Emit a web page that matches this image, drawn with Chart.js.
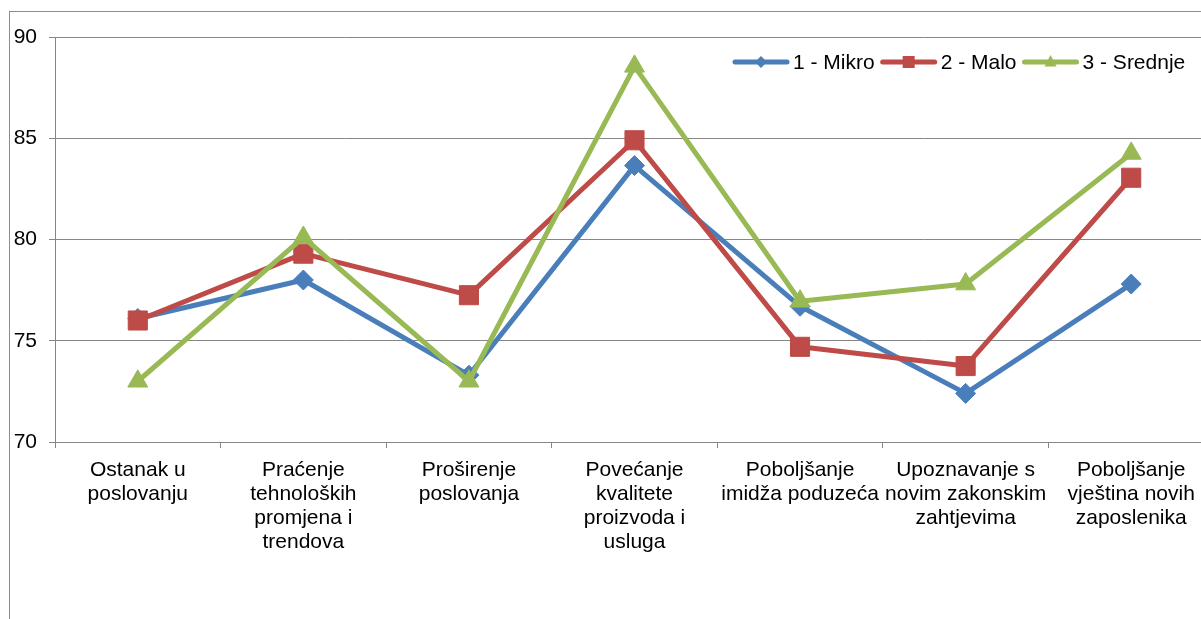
<!DOCTYPE html>
<html><head><meta charset="utf-8">
<script src="https://cdn.jsdelivr.net/npm/chart.js@4"></script>
<style>
html,body{margin:0;padding:0;overflow:hidden;background:#fff;width:1201px;height:619px;}
#frame{position:absolute;left:9px;top:11px;width:1300px;height:700px;border-left:1px solid #8c8c8c;border-top:1px solid #8c8c8c;}
#c{position:absolute;left:0;top:0;}
</style></head><body>
<div id="frame"></div>
<canvas id="c" width="1230" height="640"></canvas>
<script>
const categories = [
  ["Ostanak u","poslovanju"],
  ["Praćenje","tehnoloških","promjena i","trendova"],
  ["Proširenje","poslovanja"],
  ["Povećanje","kvalitete","proizvoda i","usluga"],
  ["Poboljšanje","imidža poduzeća"],
  ["Upoznavanje s","novim zakonskim","zahtjevima"],
  ["Poboljšanje","vještina novih","zaposlenika"]
];
const seriesNames = ["1 - Mikro","2 - Malo","3 - Srednje"];
const mikro   = [76.1, 78.0, 73.3, 83.65, 76.7, 72.4, 77.8];
const malo    = [76.0, 79.3, 77.25, 84.9, 74.7, 73.75, 83.05];
const srednje = [73.0, 80.1, 73.0, 88.55, 76.95, 77.8, 84.25];
const yMin = 70, yMax = 90, yStep = 5;

const colors = ["#4a7ebb", "#be4b48", "#98b954"];
const styles = ["rectRot", "rect", "triangle"];
const radii = [10, 13.5, 11.5];
const FONT = "'Liberation Sans', Arial, sans-serif";

Chart.defaults.font.family = FONT;
Chart.defaults.font.size = 21;
Chart.defaults.color = "#000";

function drawMarker(ctx, style, x, y, s) {
  ctx.beginPath();
  if (style === "rectRot") {
    ctx.moveTo(x, y - s); ctx.lineTo(x + s, y); ctx.lineTo(x, y + s); ctx.lineTo(x - s, y);
  } else if (style === "rect") {
    ctx.rect(x - s, y - s, 2 * s, 2 * s);
  } else {
    const h = s * 1.732;
    ctx.moveTo(x, y - s); ctx.lineTo(x + h / 2, y + s / 2 + 1); ctx.lineTo(x - h / 2, y + s / 2 + 1);
  }
  ctx.closePath();
  ctx.fill();
}

const legendPlugin = {
  id: "customLegend",
  afterDraw(chart) {
    const ctx = chart.ctx;
    ctx.save();
    ctx.font = "21px " + FONT;
    ctx.textBaseline = "middle";
    ctx.textAlign = "left";
    let x = 733;
    const y = 62;
    const markerSizes = [6, 6, 7];
    seriesNames.forEach((name, i) => {
      ctx.strokeStyle = colors[i];
      ctx.fillStyle = colors[i];
      ctx.lineWidth = 5;
      ctx.lineCap = "round";
      ctx.beginPath();
      ctx.moveTo(x + 2, y); ctx.lineTo(x + 54, y);
      ctx.stroke();
      drawMarker(ctx, styles[i], x + 28, y, markerSizes[i]);
      ctx.fillStyle = "#000";
      ctx.fillText(name, x + 60, y + 1);
      x += 60 + ctx.measureText(name).width + 6;
    });
    ctx.restore();
  }
};

const data = [mikro, malo, srednje];
new Chart(document.getElementById("c"), {
  type: "line",
  data: {
    labels: categories,
    datasets: data.map((d, i) => ({
      label: seriesNames[i],
      data: d,
      borderColor: colors[i],
      backgroundColor: colors[i],
      borderWidth: 5,
      borderJoinStyle: "round",
      pointStyle: styles[i],
      pointRadius: radii[i],
      pointBorderWidth: 1,
      pointBorderColor: colors[i],
      pointBackgroundColor: colors[i],
      tension: 0,
      order: 3 - i
    }))
  },
  options: {
    responsive: false,
    animation: false,
    events: [],
    layout: { padding: { top: 37, left: 0, right: 16, bottom: 0 } },
    plugins: { legend: { display: false }, tooltip: { enabled: false } },
    scales: {
      x: {
        offset: true,
        grid: { offset: true, drawOnChartArea: false, drawTicks: true, tickLength: 6, color: "#868686", lineWidth: 1 },
        border: { color: "#868686", width: 1 },
        ticks: { maxRotation: 0, minRotation: 0, autoSkip: false, padding: 10, font: { size: 21, lineHeight: 1.15 } },
        afterFit(s) { s.height = 198; }
      },
      y: {
        min: yMin, max: yMax,
        grid: { color: "#868686", lineWidth: 1, tickLength: 6, drawTicks: true },
        border: { color: "#868686", width: 1 },
        ticks: { stepSize: yStep, padding: 12, font: { size: 21 } },
        afterFit(s) { s.width = 55; }
      }
    }
  },
  plugins: [legendPlugin]
});
</script>
</body></html>
